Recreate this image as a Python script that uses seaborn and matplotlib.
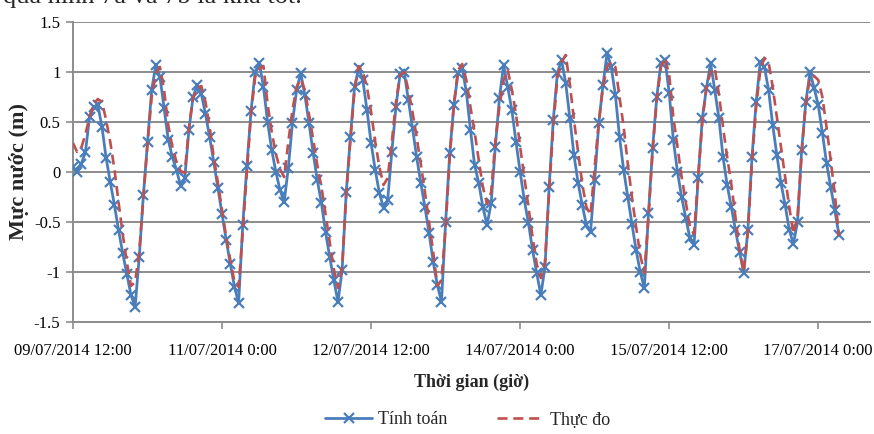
import pandas as pd
import matplotlib
matplotlib.use('Agg')
import matplotlib.pyplot as plt
import seaborn as sns

# Water level, hourly, from 09/07/2014 12:00
start = pd.Timestamp('2014-07-09 12:00')

tinh_toan = [
    0.05, 0.00, 0.08, 0.20, 0.55, 0.65, 0.67, 0.45, 0.14, -0.10,
    -0.33, -0.58, -0.81, -1.02, -1.23, -1.35, -0.85, -0.23, 0.30, 0.82,
    1.07, 0.95, 0.64, 0.32, 0.15, 0.02, -0.14, -0.06, 0.42, 0.75,
    0.87, 0.78, 0.58, 0.35, 0.10, -0.16, -0.42, -0.68, -0.92, -1.15,
    -1.31, -0.53, 0.06, 0.61, 1.00, 1.09, 0.85, 0.50, 0.22, 0.00,
    -0.18, -0.30, 0.04, 0.49, 0.82, 0.99, 0.77, 0.49, 0.19, -0.08,
    -0.31, -0.60, -0.85, -1.08, -1.30, -0.98, -0.20, 0.35, 0.85, 1.04,
    0.92, 0.62, 0.29, 0.02, -0.21, -0.36, -0.28, 0.20, 0.65, 0.98,
    1.00, 0.72, 0.44, 0.15, -0.11, -0.35, -0.61, -0.90, -1.13, -1.30,
    -0.50, 0.19, 0.67, 0.99, 1.04, 0.80, 0.42, 0.07, -0.11, -0.35,
    -0.53, -0.31, 0.25, 0.74, 1.07, 0.85, 0.62, 0.30, 0.00, -0.28,
    -0.51, -0.78, -1.01, -1.23, -0.95, -0.15, 0.52, 0.99, 1.12, 0.89,
    0.54, 0.17, -0.11, -0.33, -0.53, -0.60, -0.08, 0.49, 0.87, 1.19,
    1.05, 0.77, 0.35, 0.02, -0.25, -0.52, -0.78, -1.00, -1.16, -0.41,
    0.24, 0.75, 1.09, 1.12, 0.79, 0.32, 0.00, -0.25, -0.46, -0.66,
    -0.73, -0.06, 0.54, 0.84, 1.09, 0.82, 0.54, 0.15, -0.13, -0.35,
    -0.58, -0.80, -1.01, -0.58, 0.15, 0.70, 1.10, 1.05, 0.82, 0.47,
    0.17, -0.11, -0.33, -0.58, -0.72, -0.50, 0.22, 0.70, 1.00, 0.84,
    0.67, 0.39, 0.09, -0.15, -0.38, -0.63,
]

thuc_do = [
    0.29, 0.20, 0.24, 0.38, 0.55, 0.68, 0.73, 0.70, 0.52, 0.30,
    0.03, -0.30, -0.62, -0.90, -1.14, -1.10, -0.80, -0.25, 0.28, 0.75,
    0.98, 1.05, 0.82, 0.47, 0.25, 0.10, 0.01, -0.01, 0.45, 0.74,
    0.84, 0.86, 0.70, 0.45, 0.15, -0.11, -0.38, -0.65, -0.88, -1.10,
    -1.15, -0.60, 0.00, 0.58, 0.95, 1.03, 1.06, 0.68, 0.40, 0.18,
    0.03, -0.05, 0.30, 0.62, 0.85, 0.93, 0.82, 0.58, 0.33, 0.07,
    -0.15, -0.42, -0.70, -0.97, -1.16, -0.95, -0.22, 0.32, 0.82, 1.06,
    1.00, 0.85, 0.60, 0.30, 0.05, -0.13, -0.06, 0.30, 0.70, 0.97,
    1.00, 0.82, 0.60, 0.35, 0.08, -0.20, -0.50, -0.80, -1.14, -1.08,
    -0.55, 0.15, 0.68, 1.02, 1.08, 0.92, 0.65, 0.40, 0.12, -0.15,
    -0.32, -0.20, 0.30, 0.66, 0.92, 1.02, 0.82, 0.58, 0.25, -0.05,
    -0.35, -0.65, -0.92, -1.06, -0.90, -0.20, 0.45, 0.95, 1.10, 1.17,
    0.88, 0.52, 0.20, -0.12, -0.35, -0.43, 0.05, 0.50, 0.85, 1.05,
    1.10, 1.05, 0.75, 0.45, 0.08, -0.25, -0.55, -0.83, -1.01, -0.45,
    0.22, 0.72, 1.05, 1.14, 0.97, 0.55, 0.25, -0.05, -0.30, -0.55,
    -0.62, -0.05, 0.50, 0.85, 1.00, 1.04, 0.78, 0.45, 0.15, -0.12,
    -0.45, -0.78, -1.00, -0.60, 0.10, 0.65, 1.02, 1.14, 1.10, 0.85,
    0.55, 0.25, -0.05, -0.35, -0.62, -0.45, 0.20, 0.68, 0.95, 0.96,
    0.92, 0.75, 0.45, 0.12, -0.22, -0.64,
]

y_ticks = [-1.5, -1, -0.5, 0, 0.5, 1, 1.5]
y_labels = ['-1.5', '-1', '-0.5', '0', '0.5', '1', '1.5']
x_ticks = pd.date_range(start, periods=6, freq='36h')
x_labels = [f"{d:%d/%m/%Y} {d.hour}:{d:%M}" for d in x_ticks]

times = pd.date_range(start, periods=len(tinh_toan), freq='h')
df = pd.DataFrame({'time': times, 'Tính toán': tinh_toan, 'Thực đo': thuc_do})

sns.set_style('ticks')
plt.rcParams['font.family'] = ['Liberation Serif', 'DejaVu Serif']

fig = plt.figure(figsize=(8.74, 4.34), dpi=100)
ax = fig.add_axes([73 / 874, 1 - 322 / 434, 797 / 874, 300 / 434])

blue = '#4A7EBB'
red = '#C0504D'
grey = '#8C8C8C'

sns.lineplot(data=df, x='time', y='Tính toán', ax=ax, color=blue, lw=2.0,
             marker='x', ms=7, mew=1.6, mec=blue, label='Tính toán', zorder=3)
sns.lineplot(data=df, x='time', y='Thực đo', ax=ax, color=red, lw=1.9,
             linestyle=(0, (3.8, 2.2)), label='Thực đo', zorder=4)

ax.set_xlim(start, start + pd.Timedelta(hours=192.5))
ax.set_ylim(-1.5, 1.5)
ax.set_yticks(y_ticks)
ax.set_yticklabels(y_labels)
ax.set_xticks(x_ticks)
ax.set_xticklabels(x_labels)

ax.grid(axis='y', color=grey, lw=1.4)
ax.grid(axis='x', visible=False)
for side in ['top', 'right']:
    ax.spines[side].set_visible(False)
for side in ['left', 'bottom']:
    ax.spines[side].set_color(grey)
    ax.spines[side].set_linewidth(1.4)
ax.tick_params(axis='both', direction='out', length=5, width=1.2, color=grey,
               labelsize=12, labelcolor='black')
ax.tick_params(axis='x', pad=10)
ax.tick_params(axis='y', pad=4)

ax.set_xlabel('Thời gian (giờ)', fontsize=13, fontweight='bold', va='center')
ax.xaxis.set_label_coords(0.5, (322 - 382) / 300)
ax.set_ylabel('Mực nước (m)', fontsize=16, fontweight='bold', va='center')
ax.yaxis.set_label_coords((19 - 73) / 797, 0.5)

handles, labels = ax.get_legend_handles_labels()
ax.get_legend().remove()
fig.legend(handles, labels, loc='center', bbox_to_anchor=(0.535, 1 - 420 / 434),
           ncol=2, frameon=False, fontsize=13, handlelength=2.6,
           columnspacing=2.8, handletextpad=0.3)

# clipped line of body text above the chart (only its lower part shows)
fig.text(0.003, 1 - 3 / 434, 'quả hình 7a và 7b là khá tốt.', fontsize=19,
         va='baseline', ha='left')

fig.savefig('out.png', dpi=100)
